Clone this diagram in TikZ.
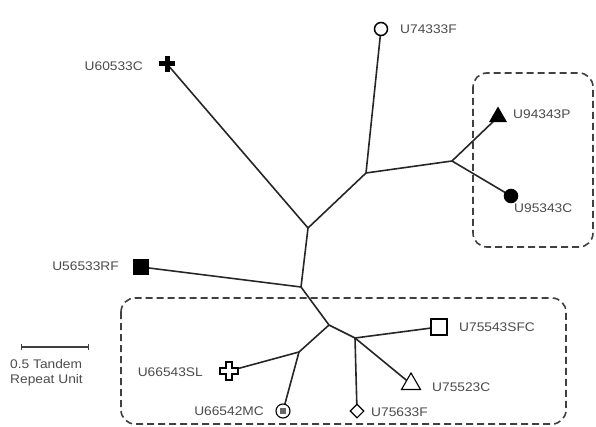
\documentclass[tikz,border=0pt]{standalone}
\usepackage{fontspec}
\setmainfont{Liberation Sans}[FakeStretch=1.1]
\usetikzlibrary{shapes.geometric,calc}
\begin{document}
\begin{tikzpicture}[x=1pt,y=-1pt,
  branch/.style={line width=1.6pt, black!85},
  lbl/.style={font=\fontsize{12.5}{14}\selectfont, text=black!70, inner sep=0pt},
  grp/.style={line width=1.6pt, black!75, dash pattern=on 7pt off 4pt, rounded corners=14pt},
  mk/.style={inner sep=0pt, line width=1.5pt, draw=black},
  hub/.style={inner sep=0pt, minimum size=0pt}]
\useasboundingbox (0,0) rectangle (596,427);
% groups
\draw[grp] (473,73) rectangle (593,247);
\draw[grp] (121,298) rectangle (566,424);
% internal nodes
\coordinate (A) at (308,228);
\coordinate (B) at (366,173);
\coordinate (C) at (452,161);
\coordinate (D) at (301,287);
\coordinate (E) at (329,325);
\coordinate (F) at (299,352);
\coordinate (G) at (355,338);
% leaves
\coordinate (n1) at (167,64);
\coordinate (n2) at (381,29);
\coordinate (n3) at (498,117);
\coordinate (n4) at (511,196);
\coordinate (n5) at (141,267);
\coordinate (n6) at (439,327);
\coordinate (n7) at (411,384);
\coordinate (n8) at (357,411);
\coordinate (n9) at (283,411);
\coordinate (n10) at (229,371);
% branches
\draw[branch] (A) -- (n1);
\draw[branch] (A) -- (B);
\draw[branch] (B) -- (n2);
\draw[branch] (B) -- (C);
\draw[branch] (C) -- (n3);
\draw[branch] (C) -- (n4);
\draw[branch] (A) -- (D);
\draw[branch] (D) -- (n5);
\draw[branch] (D) -- (E);
\draw[branch] (E) -- (F);
\draw[branch] (E) -- (G);
\draw[branch] (F) -- (n10);
\draw[branch] (F) -- (n9);
\draw[branch] (G) -- (n6);
\draw[branch] (G) -- (n7);
\draw[branch] (G) -- (n8);
% markers
\fill[black] ($(n1)+(-8,-2.5)$) rectangle ($(n1)+(8,2.5)$);
\fill[black] ($(n1)+(-2.5,-8)$) rectangle ($(n1)+(2.5,8)$);
\node[mk, circle, fill=white, minimum size=13pt] (m2) at (n2) {};
\node[mk, regular polygon, regular polygon sides=3, fill=black, minimum size=18pt] (m3) at (n3) {};
\node[mk, circle, fill=black, minimum size=13pt] (m4) at (n4) {};
\node[mk, rectangle, fill=black, minimum size=15pt] (m5) at (n5) {};
\node[mk, rectangle, fill=white, minimum size=16pt, line width=1.1pt] (m6) at (n6) {};
\node[mk, regular polygon, regular polygon sides=3, fill=white, minimum size=22pt, line width=1.1pt] (m7) at (n7) {};
\node[mk, diamond, fill=white, minimum size=14pt, line width=1.1pt] (m8) at (n8) {};
\node[mk, circle, fill=white, minimum size=14pt, line width=1.1pt] (m9) at (n9) {};
\fill[black!60] ($(n9)+(-3,-3)$) rectangle ($(n9)+(3,3)$);
\draw[line width=1.1pt, fill=white] ($(n10)+(-3,-9)$) -- ++(6,0) -- ++(0,6) -- ++(6,0) -- ++(0,6) -- ++(-6,0) -- ++(0,6) -- ++(-6,0) -- ++(0,-6) -- ++(-6,0) -- ++(0,-6) -- ++(6,0) -- cycle;
% labels
\node[lbl, anchor=east] (l1) at (143,66) {U60533C};
\node[lbl, anchor=west] (l2) at (400,29) {U74333F};
\node[lbl, anchor=west] (l3) at (513,114) {U94343P};
\node[lbl, anchor=west] (l4) at (514,208) {U95343C};
\node[lbl, anchor=east] (l5) at (119,266) {U56533RF};
\node[lbl, anchor=west] (l6) at (459,327) {U75543SFC};
\node[lbl, anchor=west] (l7) at (432,387) {U75523C};
\node[lbl, anchor=west] (l8) at (371,412) {U75633F};
\node[lbl, anchor=east] (l9) at (264,411) {U66542MC};
\node[lbl, anchor=east] (l10) at (203,372) {U66543SL};
% scale bar
\coordinate (s1) at (21,347);
\coordinate (s2) at (88,347);
\draw[line width=1.4pt, black!75] (s1) -- (s2);
\draw[line width=1pt, black!75] ($(s1)+(0,-3)$) -- ($(s1)+(0,3)$);
\draw[line width=1pt, black!75] ($(s2)+(0,-3)$) -- ($(s2)+(0,3)$);
\node[lbl, anchor=north west, align=left, font=\fontsize{12.5}{15}\selectfont] (sl) at (10,359) {0.5 Tandem\\Repeat Unit};
\end{tikzpicture}
\end{document}
